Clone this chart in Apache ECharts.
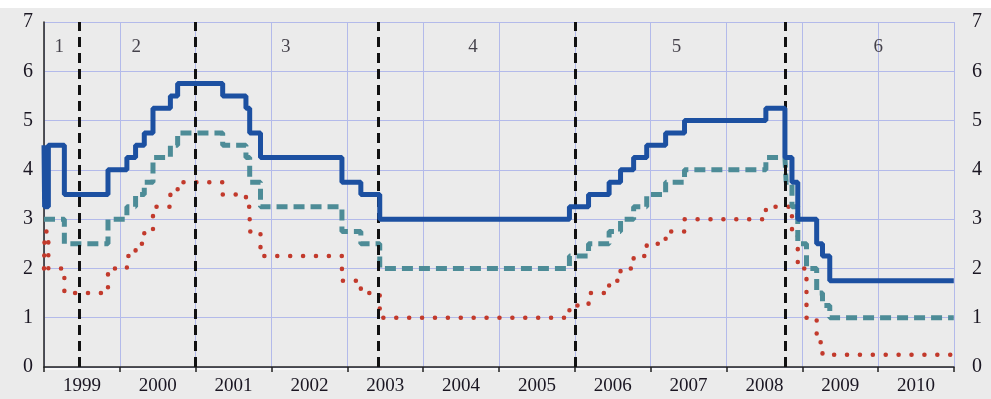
<!DOCTYPE html>
<html>
<head>
<meta charset="utf-8">
<script src="https://cdn.jsdelivr.net/npm/echarts@6/dist/echarts.min.js"></script>
<style>
  html, body { margin: 0; padding: 0; background: #ebebeb; }
  #chart { width: 991px; height: 399px; }
</style>
</head>
<body>
<div id="chart"></div>
<script>
// ECB key interest rates, 1999-2010: dates of each rate change and the rate in force from that date
const changeDates = [
  '1999-01-01', '1999-01-04', '1999-01-22', '1999-04-09', '1999-11-05',
  '2000-02-04', '2000-03-17', '2000-04-28', '2000-06-09', '2000-09-01', '2000-10-06',
  '2001-05-11', '2001-08-31', '2001-09-18', '2001-11-09',
  '2002-12-06', '2003-03-07', '2003-06-06',
  '2005-12-06', '2006-03-08', '2006-06-15', '2006-08-09', '2006-10-11', '2006-12-13',
  '2007-03-14', '2007-06-13', '2008-07-09', '2008-10-09', '2008-10-15', '2008-11-12',
  '2008-12-10', '2009-01-21', '2009-03-11', '2009-04-08', '2009-05-13', '2010-12-31'
];
// marginal lending facility
const lendingRate = [
  4.50, 3.25, 4.50, 3.50, 4.00,
  4.25, 4.50, 4.75, 5.25, 5.50, 5.75,
  5.50, 5.25, 4.75, 4.25,
  3.75, 3.50, 3.00,
  3.25, 3.50, 3.75, 4.00, 4.25, 4.50,
  4.75, 5.00, 5.25, 4.25, 4.25, 3.75,
  3.00, 3.00, 2.50, 2.25, 1.75, 1.75
];
// main refinancing operations
const refiRate = [
  3.00, 3.00, 3.00, 2.50, 3.00,
  3.25, 3.50, 3.75, 4.25, 4.50, 4.75,
  4.50, 4.25, 3.75, 3.25,
  2.75, 2.50, 2.00,
  2.25, 2.50, 2.75, 3.00, 3.25, 3.50,
  3.75, 4.00, 4.25, 4.25, 3.75, 3.25,
  2.50, 2.00, 1.50, 1.25, 1.00, 1.00
];
// deposit facility
const depositRate = [
  2.00, 2.75, 2.00, 1.50, 2.00,
  2.25, 2.50, 2.75, 3.25, 3.50, 3.75,
  3.50, 3.25, 2.75, 2.25,
  1.75, 1.50, 1.00,
  1.25, 1.50, 1.75, 2.00, 2.25, 2.50,
  2.75, 3.00, 3.25, 3.25, 3.25, 2.75,
  2.00, 1.00, 0.50, 0.25, 0.25, 0.25
];

// year labels under the time axis
const yearLabels = ['1999', '2000', '2001', '2002', '2003', '2004', '2005', '2006', '2007', '2008', '2009', '2010'];
const yTicks = [0, 1, 2, 3, 4, 5, 6, 7];

// policy phase boundaries and phase numbers
const phaseBreaks = ['1999-06-20', '2000-12-30', '2003-05-30', '2005-12-31', '2008-10-12'];
const phaseNames = ['1', '2', '3', '4', '5', '6'];
const phaseCentres = ['1999-03-15', '2000-03-20', '2002-03-10', '2004-08-28', '2007-05-05', '2010-01-02'];
const phaseLabelLevel = 6.5;

// date string -> fractional year
function toYear(s) {
  const d = new Date(s + 'T00:00:00Z');
  const y = d.getUTCFullYear();
  const start = Date.UTC(y, 0, 1), end = Date.UTC(y + 1, 0, 1);
  return y + (d.getTime() - start) / (end - start);
}

const xs = changeDates.map(toYear);
const pairs = arr => xs.map((x, i) => [x, arr[i]]);

const serif = '"Liberation Serif", "DejaVu Serif", serif';
const textColor = '#1a1622';
const gridColor = '#b3baea';

const chart = echarts.init(document.getElementById('chart'), null, { renderer: 'canvas' });

const gridLeft = 44, gridRight = 37, gridTop = 22, gridBottom = 32;

chart.setOption({
  backgroundColor: '#ebebeb',
  animation: false,
  grid: { left: gridLeft, right: gridRight, top: gridTop, bottom: gridBottom, backgroundColor: '#ebebeb', show: true, borderWidth: 0 },
  graphic: [
    { type: 'rect', left: 0, top: 0, shape: { width: 991, height: 8 }, style: { fill: '#ffffff' }, silent: true },
    { type: 'rect', left: gridLeft, top: 399 - gridBottom, shape: { width: 991 - gridLeft - gridRight, height: 3 }, style: { fill: '#f8f8f8' }, silent: true }
  ],
  xAxis: [
    {
      type: 'value', min: 1999, max: 2011, interval: 1,
      axisLine: { show: false }, axisTick: { show: false }, axisLabel: { show: false },
      splitLine: { show: true, lineStyle: { color: gridColor, width: 1 } }
    },
    {
      type: 'category', data: yearLabels, position: 'bottom', offset: 4, boundaryGap: true,
      axisLine: { show: true, lineStyle: { color: '#222', width: 1.5 } },
      axisTick: { show: true, alignWithLabel: false, length: 5, lineStyle: { color: '#222', width: 1.5 } },
      axisLabel: { fontFamily: serif, fontSize: 19, color: textColor, margin: 6 },
      splitLine: { show: false }
    }
  ],
  yAxis: [
    {
      type: 'value', min: yTicks[0], max: yTicks[yTicks.length - 1], interval: 1,
      axisLine: { show: true, lineStyle: { color: '#222', width: 1.5 } },
      axisTick: { show: false },
      axisLabel: { fontFamily: serif, fontSize: 20, color: textColor, margin: 11 },
      splitLine: { show: true, lineStyle: { color: gridColor, width: 1 } }
    },
    {
      type: 'value', min: yTicks[0], max: yTicks[yTicks.length - 1], interval: 1, position: 'right',
      axisLine: { show: false }, axisTick: { show: false },
      axisLabel: { fontFamily: serif, fontSize: 20, color: textColor, margin: 18 },
      splitLine: { show: false }
    }
  ],
  series: [
    {
      name: 'Deposit facility', type: 'line', step: 'end', data: pairs(depositRate),
      xAxisIndex: 0, yAxisIndex: 0, showSymbol: false, z: 3,
      lineStyle: { color: '#c23a2c', width: 4.5, type: [0.1, 12.8], cap: 'round' },
      markLine: {
        silent: true, symbol: 'none', label: { show: false },
        lineStyle: { color: '#111', width: 3, type: [10, 6] },
        data: phaseBreaks.map(d => ({ xAxis: toYear(d) }))
      }
    },
    {
      name: 'Main refinancing operations', type: 'line', step: 'end', data: pairs(refiRate),
      xAxisIndex: 0, yAxisIndex: 0, showSymbol: false, z: 4,
      lineStyle: { color: '#4d8c97', width: 5, type: [11, 6] }
    },
    {
      name: 'Marginal lending facility', type: 'line', step: 'end', data: pairs(lendingRate),
      xAxisIndex: 0, yAxisIndex: 0, showSymbol: false, z: 5,
      lineStyle: { color: '#1c50a1', width: 5 }
    },
    {
      name: 'Phases', type: 'scatter', xAxisIndex: 0, yAxisIndex: 0, symbolSize: 0, z: 6,
      data: phaseCentres.map((d, i) => [toYear(d), phaseLabelLevel, phaseNames[i]]),
      label: {
        show: true, position: 'inside', formatter: p => p.value[2],
        fontFamily: serif, fontSize: 19, color: textColor
      }
    }
  ]
});
</script>
</body>
</html>
